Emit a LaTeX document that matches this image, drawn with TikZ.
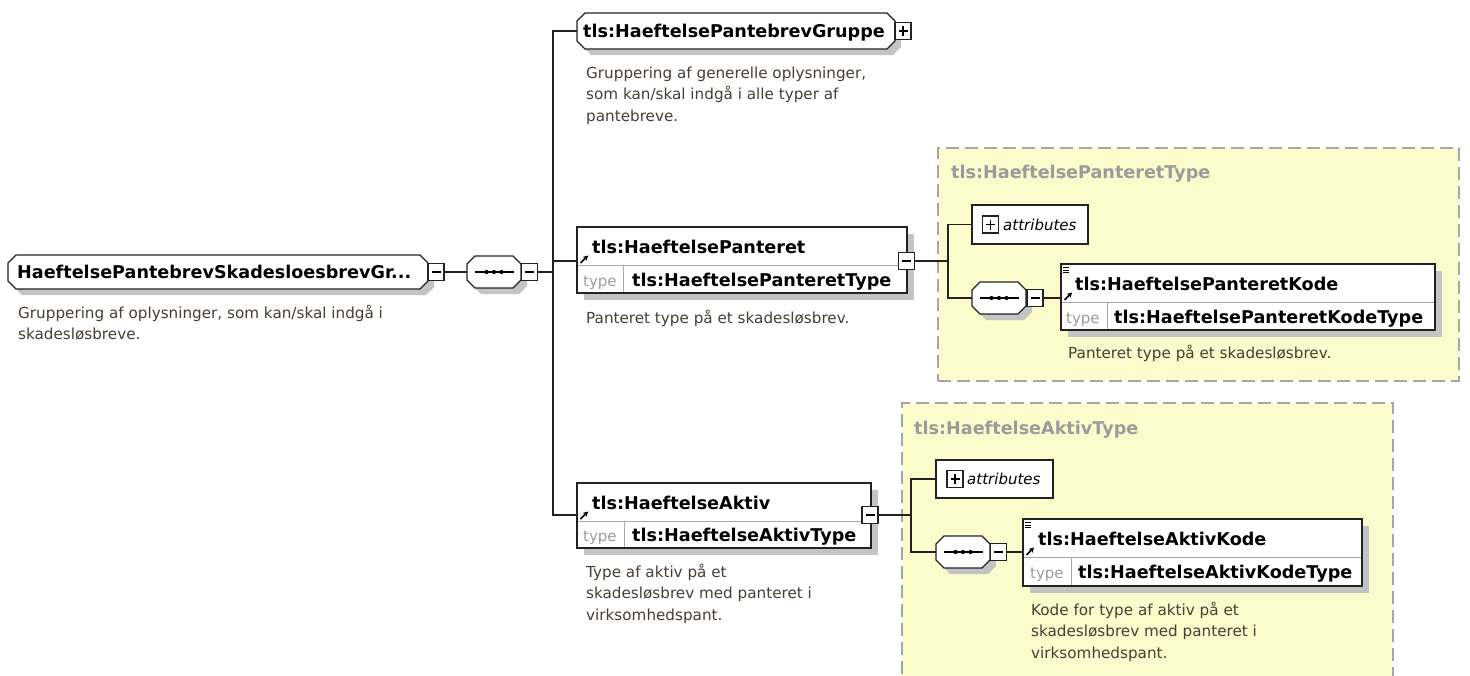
\documentclass[tikz,border=0pt]{standalone}
\usepackage{fontspec}
\setmainfont{DejaVu Sans}
\usetikzlibrary{arrows.meta}
\definecolor{shd}{HTML}{C4C4C4}
\definecolor{desccol}{HTML}{463E34}
\definecolor{ylw}{HTML}{FCFBCB}
\definecolor{dsh}{HTML}{A6A6A6}
\definecolor{ttlcol}{HTML}{9B9B9B}
\definecolor{typcol}{HTML}{9C9C9C}
\definecolor{divcol}{HTML}{A8A8A8}
\definecolor{boxcol}{HTML}{222222}
\newcommand{\octo}[5]{(#1+#5,#2) -- (#3-#5,#2) -- (#3,#2+#5) -- (#3,#4-#5) -- (#3-#5,#4) -- (#1+#5,#4) -- (#1,#4-#5) -- (#1,#2+#5) -- cycle}
\newcommand{\mns}[1]{\draw[line width=1.1pt] ([xshift=3.5pt]#1.west) -- ([xshift=-3.5pt]#1.east);}
\newcommand{\pls}[1]{\mns{#1}\draw[line width=1.1pt] ([yshift=3.5pt]#1.south) -- ([yshift=-3.5pt]#1.north);}
\newcommand{\seqsym}[1]{\draw[line width=1.3pt] ([xshift=8pt]#1.west) -- ([xshift=-7pt]#1.east);
  \foreach \d in {-7.5,0,7.5} \fill ([xshift=\d pt]#1.center) circle (2.1pt);}
\newcommand{\refarr}[2]{\draw[line width=1.6pt,-{Stealth[length=5pt,width=5.5pt]}] (#1+3.5,#2-2) -- (#1+11,#2-9.5);}
\newcommand{\simpico}[2]{\draw[line width=0.9pt] (#1+2,#2+3.5) -- ++(6,0) (#1+2,#2+6) -- ++(6,0) (#1+2,#2+8.5) -- ++(6,0);}
\newcommand{\dlines}[1]{\vtop{\baselineskip=21.5pt\lineskiplimit=-10pt\halign{##\hfil\cr#1\crcr}}}
\begin{document}
\begin{tikzpicture}[x=1pt,y=-1pt,
  bx/.style={draw=boxcol, line width=1.3pt, fill=white, inner sep=0pt, outer sep=0pt, anchor=north west},
  octs/.style={draw=boxcol, line width=1.3pt, fill=white},
  anchorbox/.style={inner sep=0pt, outer sep=0pt, anchor=north west},
  pm/.style={draw=boxcol, line width=1.1pt, fill=white, inner sep=0pt, outer sep=0pt, minimum width=16pt, minimum height=17pt},
  conn/.style={line width=1.3pt, draw=boxcol},
  divc/.style={line width=1pt, draw=divcol},
  nm/.style={inner sep=0pt, anchor=base west, font=\fontsize{17.6}{20}\selectfont\bfseries},
  ttl/.style={nm, text=ttlcol},
  typl/.style={inner sep=0pt, anchor=base west, font=\fontsize{15}{18}\selectfont, text=typcol},
  dsc/.style={inner sep=0pt, anchor=base west, font=\fontsize{15.2}{21.5}\selectfont, text=desccol},
  attr/.style={inner sep=0pt, anchor=base west, font=\fontsize{15}{18}\selectfont\itshape},
  ybox/.style={draw=dsh, fill=ylw, line width=1.3pt, dash pattern=on 13pt off 6pt, inner sep=0pt, outer sep=0pt, anchor=north west},
]
\useasboundingbox (0,0) rectangle (1470,675);
\fill[white] (0,0) rectangle (1470,675);

% ---------- yellow type boxes
\node[ybox, minimum width=521pt, minimum height=233pt] (tp1) at (938,148) {};
\node[ttl] (tp1t) at (951,178) {tls:HaeftelsePanteretType};
\node[ybox, minimum width=491pt, minimum height=280pt] (tp2) at (902,403) {};
\node[ttl] (tp2t) at (914,434) {tls:HaeftelseAktivType};

% ---------- root element
\fill[shd] \octo{14}{261}{434}{295}{8};
\draw[octs] \octo{8}{255}{428}{289}{8};
\node[anchorbox, minimum width=420pt, minimum height=34pt] (root) at (8,255) {};
\node[nm] (rootn) at (17,278.5) {HaeftelsePantebrevSkadesloesbrevGr...};
\node[pm] (rootm) at (436,272) {}; \mns{rootm}
\node[dsc] (rootd) at (18,318) {\dlines{Gruppering af oplysninger, som kan/skal indgå i\cr skadesløsbreve.}};

% ---------- sequence 1
\fill[shd] \octo{473}{262}{527}{294}{8};
\draw[octs] \octo{467}{256}{521}{288}{8};
\node[anchorbox, minimum width=54pt, minimum height=32pt] (seq1) at (467,256) {};
\seqsym{seq1}
\node[pm] (seq1m) at (529.5,272) {}; \mns{seq1m}

% ---------- group
\fill[shd] \octo{583}{19}{901}{55}{8};
\draw[octs] \octo{577}{13}{895}{49}{8};
\node[anchorbox, minimum width=318pt, minimum height=36pt] (grp) at (577,13) {};
\node[nm] (grpn) at (583,37.5) {tls:HaeftelsePantebrevGruppe};
\node[pm] (grpp) at (903,31) {}; \pls{grpp}
\node[dsc] (grpd) at (586,78) {\dlines{Gruppering af generelle oplysninger,\cr som kan/skal indgå i alle typer af\cr pantebreve.}};

% ---------- HaeftelsePanteret
\fill[shd] (584,234) rectangle (914,300);
\node[bx, minimum width=330pt, minimum height=66pt] (pan) at (577,227) {};
\draw[divc] (578,265) -- (906,265) (623,265) -- (623,292);
\node[nm] (pann) at (592,253) {tls:HaeftelsePanteret};
\node[typl] (pant) at (583,286) {type};
\node[nm] (pantn) at (632,286) {tls:HaeftelsePanteretType};
\refarr{577}{265}
\node[pm] (panm) at (906.5,261) {}; \mns{panm}
\coordinate (panin) at (577,261);
\node[dsc] (pand) at (586,323) {Panteret type på et skadesløsbrev.};

% attributes 1
\node[bx, minimum width=116pt, minimum height=39pt] (att1) at (972,205) {};
\node[pm] (att1p) at (990.5,224.5) {}; \pls{att1p}
\node[attr] (att1t) at (1003,230) {attributes};

% sequence 2
\fill[shd] \octo{978}{288}{1032}{320}{8};
\draw[octs] \octo{972}{282}{1026}{314}{8};
\node[anchorbox, minimum width=54pt, minimum height=32pt] (seq2) at (972,282) {};
\seqsym{seq2}
\node[pm] (seq2m) at (1035,298) {}; \mns{seq2m}

% Kode 1
\fill[shd] (1068,271) rectangle (1442,337);
\node[bx, minimum width=374pt, minimum height=66pt] (kod1) at (1061,264) {};
\draw[divc] (1062,302) -- (1434,302) (1107,302) -- (1107,329);
\simpico{1061}{264}
\refarr{1061}{302}
\node[nm] (kod1n) at (1075,290) {tls:HaeftelsePanteretKode};
\node[typl] (kod1t) at (1066,323) {type};
\node[nm] (kod1tn) at (1114,323) {tls:HaeftelsePanteretKodeType};
\coordinate (kod1in) at (1061,298);
\node[dsc] (kod1d) at (1068,358) {Panteret type på et skadesløsbrev.};

% ---------- HaeftelseAktiv
\fill[shd] (584,490) rectangle (878,555);
\node[bx, minimum width=294pt, minimum height=65pt] (akt) at (577,483) {};
\draw[divc] (578,521) -- (870,521) (624,521) -- (624,547);
\node[nm] (aktn) at (592,509) {tls:HaeftelseAktiv};
\node[typl] (aktt) at (583,541) {type};
\node[nm] (akttn) at (632,541) {tls:HaeftelseAktivType};
\refarr{577}{521}
\node[pm] (aktm) at (870,515) {}; \mns{aktm}
\coordinate (aktin) at (577,515);
\node[dsc] (aktd) at (586,577) {\dlines{Type af aktiv på et\cr skadesløsbrev med panteret i\cr virksomhedspant.}};

% attributes 2
\node[bx, minimum width=117pt, minimum height=38pt] (att2) at (936,460) {};
\node[pm] (att2p) at (955,479) {}; \pls{att2p}
\node[attr] (att2t) at (967,484.5) {attributes};

% sequence 3
\fill[shd] \octo{942}{542}{996}{574}{8};
\draw[octs] \octo{936}{536}{990}{568}{8};
\node[anchorbox, minimum width=54pt, minimum height=32pt] (seq3) at (936,536) {};
\seqsym{seq3}
\node[pm] (seq3m) at (998.5,552) {}; \mns{seq3m}

% Kode 2
\fill[shd] (1030,526) rectangle (1369,593);
\node[bx, minimum width=339pt, minimum height=67pt] (kod2) at (1023,519) {};
\draw[divc] (1024,557) -- (1361,557) (1071,557) -- (1071,585);
\simpico{1023}{519}
\refarr{1023}{557}
\node[nm] (kod2n) at (1038,545) {tls:HaeftelseAktivKode};
\node[typl] (kod2t) at (1030,578) {type};
\node[nm] (kod2tn) at (1078,578) {tls:HaeftelseAktivKodeType};
\coordinate (kod2in) at (1023,552);
\node[dsc] (kod2d) at (1031,615) {\dlines{Kode for type af aktiv på et\cr skadesløsbrev med panteret i\cr virksomhedspant.}};

% ---------- connectors
\coordinate (bus1) at (553,272);
\draw[conn] (rootm.east) -- (seq1.west);
\draw[conn] (seq1m.east) -- (bus1);
\draw[conn] (grp.west) -| (bus1);
\draw[conn] (panin) -| (bus1);
\draw[conn] (aktin) -| (bus1);
\coordinate (bus2) at (948,261);
\draw[conn] (panm.east) -- (bus2);
\draw[conn] (att1.west) -| (bus2);
\draw[conn] (seq2.west) -| (bus2);
\draw[conn] (seq2m.east) -- (kod1in);
\coordinate (bus3) at (911,515);
\draw[conn] (aktm.east) -- (bus3);
\draw[conn] (att2.west) -| (bus3);
\draw[conn] (seq3.west) -| (bus3);
\draw[conn] (seq3m.east) -- (kod2in);
\end{tikzpicture}
\end{document}
